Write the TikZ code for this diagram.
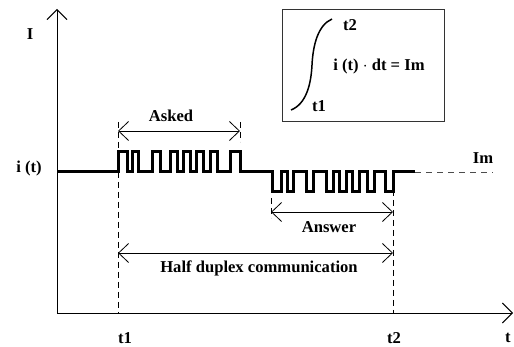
\documentclass[tikz,border=0pt]{standalone}
\usepackage{fontspec}
\setmainfont{Liberation Serif}
\usetikzlibrary{arrows.meta}
\begin{document}
\begin{tikzpicture}[x=1pt,y=-1pt,
  lbl/.style={font=\bfseries\fontsize{16.6}{20}\selectfont, inner sep=0pt},
  axis/.style={line width=0.9pt, -{Straight Barb[length=10pt,width=20pt]}},
  dim/.style={line width=0.8pt, {Straight Barb[length=10pt,width=19pt]}-{Straight Barb[length=10pt,width=19pt]}},
  guide/.style={line width=0.8pt, dash pattern=on 6pt off 4pt},
  wave/.style={line width=3pt, line join=miter, line cap=butt}]
\useasboundingbox (0,0) rectangle (514,347);
% axes
\coordinate (O) at (57,313);
\coordinate (Ytop) at (57,9);
\coordinate (Xend) at (513,313);
\draw[axis] (O) -- (Ytop);
\draw[axis] (O) -- (Xend);
% guides
\coordinate (g1t) at (118,122); \coordinate (g1b) at (118,313);
\coordinate (g2t) at (240,122); \coordinate (g2b) at (240,142);
\coordinate (g3t) at (271,198); \coordinate (g3b) at (271,218);
\coordinate (g4t) at (393,190); \coordinate (g4b) at (393,313);
\draw[guide] (g1t) -- (g1b);
\draw[guide] (g2t) -- (g2b);
\draw[guide] (g3t) -- (g3b);
\draw[guide] (g4t) -- (g4b);
% waveform
\coordinate (w0) at (57,172);
\coordinate (w1) at (415,172);
\draw[wave] (w0)
  foreach \a/\b in {118/127,132/138,152/160,170/177,183/190,196/203,210/217,230/240}
    { -- (\a,172) -- (\a,152) -- (\b,152) -- (\b,172) }
  foreach \a/\b in {272/281,287/293,306/313,326/333,339/346,352/359,367/374,385/393}
    { -- (\a,172) -- (\a,192) -- (\b,192) -- (\b,172) }
  -- (w1);
\coordinate (w2) at (493,172);
\draw[line width=0.8pt, black!70, dash pattern=on 6pt off 5pt] (w1) -- (w2);
% dimension arrows
\coordinate (a1) at (118,131); \coordinate (a2) at (240,131);
\coordinate (b1) at (271,212); \coordinate (b2) at (393,212);
\coordinate (c1) at (118,253); \coordinate (c2) at (393,253);
\draw[dim] (a1) -- (a2);
\draw[dim] (b1) -- (b2);
\draw[dim] (c1) -- (c2);
% labels
\node[lbl] (asked) at (171,116) {Asked};
\node[lbl] (answer) at (329,227) {Answer};
\node[lbl] (half) at (259,268) {Half duplex communication};
\node[lbl] (I) at (30,34) {I};
\node[lbl] (it) at (29,169) {i (t)};
\node[lbl] (Im) at (483,158) {Im};
\node[lbl] (t1) at (125,338) {t1};
\node[lbl] (t2) at (394,338) {t2};
\node[lbl] (t) at (508,338) {t};
% formula box
\coordinate (bx1) at (282,9); \coordinate (bx2) at (444,121);
\draw[line width=0.8pt, black!80] (bx1) rectangle (bx2);
\coordinate (s0) at (291,110); \coordinate (s1) at (312,65); \coordinate (s2) at (332,19);
\draw[line width=1.5pt] (s0) .. controls (306,104) and (311,85) .. (s1)
  .. controls (313,45) and (318,25) .. (s2);
\node[lbl] (ft2) at (350,25) {t2};
\node[lbl] (ft1) at (319,106) {t1};
\node[lbl] (form) at (379,67) {i (t) $\cdot$ dt = Im};
\end{tikzpicture}
\end{document}
